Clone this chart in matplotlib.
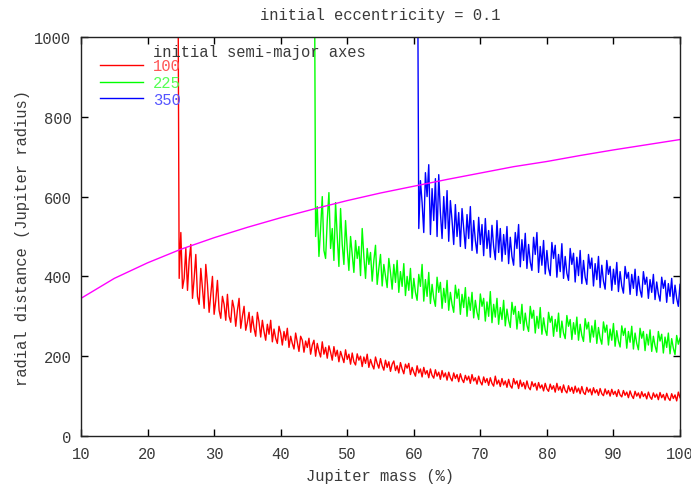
import numpy as np
import matplotlib
matplotlib.use("Agg")
import matplotlib.pyplot as plt

# initial semi-major axes (legend labels)
labels = ["100", "225", "350"]
colors = ["#ff0000", "#00ff00", "#0000ff"]
text_colors = ["#ff5555", "#55ff55", "#5555ff"]

# first x of each run (mass %, where the planet is released), last x is 100
x_start = [24.5, 45.0, 60.5]

red = [1500,
       395, 510, 370, 395, 470, 365, 440, 480, 345, 395, 455, 350, 330, 420, 370, 320,
       430, 380, 310, 355, 400, 305, 340, 390, 315, 295, 350, 330, 290, 355, 300, 285,
       340, 320, 275, 315, 345, 270, 300, 325, 265, 285, 310, 260, 300, 270, 250, 310,
       285, 248, 290, 262, 240, 280, 255, 290, 236, 268, 245, 232, 275, 258, 228, 262,
       240, 270, 222, 250, 232, 218, 258, 235, 212, 250, 240, 210, 238, 222, 245, 205,
       228, 240, 200, 232, 212, 198, 236, 205, 222, 195, 226, 210, 190, 224, 200, 215,
       186, 212, 198, 184, 216, 192, 205, 180, 208, 186, 178, 206, 190, 200, 174, 198,
       182, 205, 172, 192, 178, 168, 198, 182, 170, 194, 176, 165, 190, 172, 186, 162,
       180, 188, 164, 176, 158, 184, 168, 156, 180, 170, 182, 154, 172, 160, 150, 176,
       158, 168, 148, 172, 155, 164, 146, 168, 152, 145, 166, 150, 160, 142, 164, 148,
       158, 140, 160, 146, 138, 158, 144, 154, 136, 156, 142, 134, 152, 140, 150, 132,
       154, 138, 146, 130, 150, 136, 128, 148, 134, 144, 127, 146, 132, 125, 150, 130,
       140, 124, 144, 128, 138, 122, 142, 126, 120, 144, 130, 138, 119, 140, 124, 134,
       118, 138, 122, 116, 136, 124, 132, 115, 134, 120, 128, 113, 132, 118, 112, 130,
       117, 126, 110, 132, 115, 124, 109, 128, 114, 108, 126, 112, 122, 107, 125, 110,
       120, 106, 124, 109, 104, 122, 110, 118, 103, 121, 108, 116, 102, 119, 106, 101,
       118, 105, 114, 100, 117, 104, 112, 99, 116, 103, 98, 114, 102, 110, 96, 113,
       101, 94, 112, 100, 108, 95, 111, 99, 106, 93, 110, 98, 92, 108, 97, 105,
       91, 109, 96, 104, 90, 107, 95, 89, 106, 94, 103, 88, 110, 96]

green = [1500,
         500, 575, 450, 520, 600, 465, 445, 540, 610, 470, 520, 440, 585, 500, 425,
         570, 480, 430, 540, 470, 415, 500, 455, 410, 490, 445, 475, 402, 520, 450, 395,
         470, 430, 460, 388, 440, 478, 380, 420, 455, 376, 430, 400, 372, 445, 410, 368,
         430, 385, 440, 360, 412, 375, 432, 352, 400, 365, 420, 345, 395, 360, 340, 405,
         375, 430, 338, 392, 350, 410, 332, 380, 345, 325, 398, 360, 385, 320, 370, 335,
         390, 315, 360, 330, 310, 378, 345, 368, 305, 355, 322, 372, 300, 348, 315, 360,
         296, 340, 310, 292, 356, 325, 345, 288, 336, 300, 362, 284, 330, 298, 345, 280,
         322, 292, 340, 276, 318, 290, 272, 335, 305, 325, 268, 312, 282, 330, 265, 308,
         278, 262, 325, 295, 315, 258, 300, 270, 322, 255, 296, 266, 252, 310, 285, 300,
         250, 292, 262, 308, 247, 288, 258, 244, 302, 275, 292, 242, 284, 255, 298, 240,
         280, 252, 237, 294, 268, 285, 235, 276, 248, 290, 232, 272, 245, 230, 286, 260,
         278, 228, 268, 240, 282, 225, 264, 238, 223, 276, 252, 270, 220, 262, 235, 275,
         218, 258, 232, 216, 270, 245, 262, 214, 255, 228, 266, 212, 250, 226, 210, 262,
         238, 255, 208, 248, 222, 258, 206, 244, 220, 204, 252, 230, 245]

blue = [1500,
        520, 640, 585, 510, 660, 600, 680, 505, 620, 540, 645, 500, 655, 560, 495,
        600, 520, 615, 488, 590, 540, 480, 580, 500, 560, 475, 570, 520, 470, 555, 495,
        575, 465, 540, 490, 458, 548, 480, 530, 452, 545, 470, 515, 448, 528, 475, 442,
        540, 460, 520, 438, 505, 455, 525, 432, 498, 450, 428, 510, 470, 530, 424, 492,
        440, 508, 420, 480, 436, 415, 498, 455, 510, 410, 475, 428, 490, 406, 465, 420,
        402, 485, 445, 478, 398, 455, 412, 482, 395, 450, 408, 390, 470, 430, 458, 386,
        448, 402, 465, 382, 440, 398, 380, 455, 420, 446, 376, 432, 392, 450, 372, 428,
        388, 368, 440, 405, 425, 365, 418, 380, 435, 362, 412, 376, 358, 425, 395, 410,
        355, 405, 370, 418, 352, 400, 366, 348, 412, 380, 398, 345, 392, 360, 405, 342,
        386, 356, 338, 398, 370, 390, 335, 382, 350, 395, 332, 378, 345, 325, 380]

series = [red, green, blue]

# reference curve (magenta)
ref_x = [10, 15, 20, 25, 30, 35, 40, 45, 50, 55, 60, 65, 70, 75, 80, 85, 90, 95, 100]
ref_y = [345, 395, 434, 468, 497, 523, 547, 569, 590, 609, 626, 643, 659, 675, 688,
         703, 717, 730, 743]

xticks = [10, 20, 30, 40, 50, 60, 70, 80, 90, 100]
yticks = [0, 200, 400, 600, 800, 1000]

FONT = "Liberation Mono"
FS = 11.2
TXT = "#3a3a3a"

fig = plt.figure(figsize=(6.91, 4.89), dpi=100)
ax = fig.add_axes([81 / 691, 52 / 489, 599 / 691, 399 / 489])

for vals, start, c, lab in zip(series, x_start, colors, labels):
    xs = np.linspace(start, 100, len(vals))
    ax.plot(xs, vals, color=c, lw=1.0, label=lab)

ax.plot(ref_x, ref_y, color="#ff00ff", lw=1.0)

ax.set_xlim(10, 100)
ax.set_ylim(0, 1000)
ax.set_xticks(xticks)
ax.set_yticks(yticks)
ax.tick_params(direction="in", length=5, width=1, top=True, right=True,
               labelsize=FS, labelcolor=TXT, pad=7)
for t in ax.get_xticklabels() + ax.get_yticklabels():
    t.set_fontfamily(FONT)
for s in ax.spines.values():
    s.set_linewidth(1.0)
    s.set_color("#222222")

ax.set_title("initial eccentricity = 0.1", fontfamily=FONT, fontsize=FS,
             color=TXT, pad=13)
ax.set_xlabel("Jupiter mass (%)", fontfamily=FONT, fontsize=FS, color=TXT,
              labelpad=5)
ax.set_ylabel("radial distance (Jupiter radius)", fontfamily=FONT, fontsize=FS,
              color=TXT, labelpad=3)

leg = ax.legend(loc="upper left", bbox_to_anchor=(0.032, 0.947), frameon=False,
                borderpad=0, borderaxespad=0, handlelength=2.75, handletextpad=0.65,
                labelspacing=0.12, prop={"family": FONT, "size": FS})
for txt, c in zip(leg.get_texts(), text_colors):
    txt.set_color(c)
ax.text(0.120, 0.963, "initial semi-major axes", transform=ax.transAxes,
        fontfamily=FONT, fontsize=FS, color=TXT, va="center", ha="left")

fig.savefig("out.png", dpi=100)
